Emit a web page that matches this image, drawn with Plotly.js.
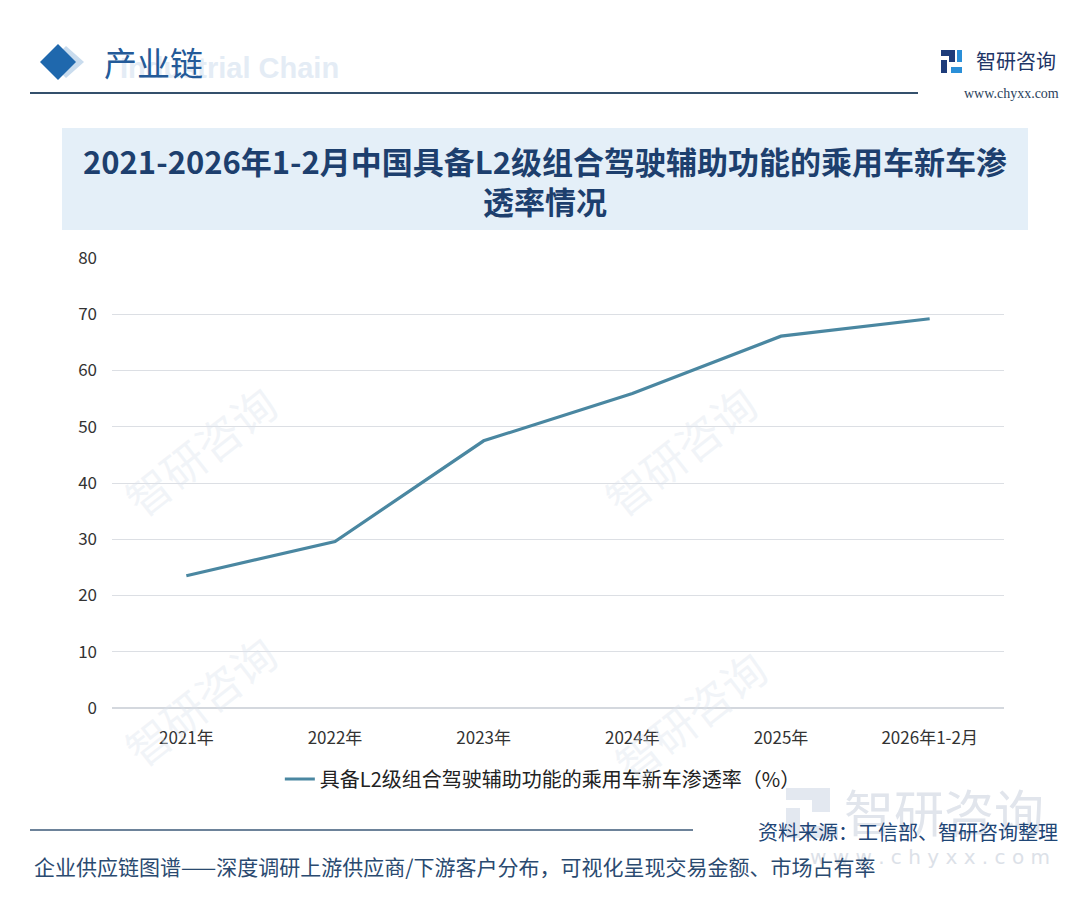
<!DOCTYPE html>
<html>
<head>
<meta charset="utf-8">
<script src="https://cdn.plot.ly/plotly-3.0.1.min.js"></script>
<style>
html,body{margin:0;padding:0;background:#fff;}
#chart{width:1080px;height:898px;}
</style>
</head>
<body>
<div id="chart"></div>
<script>
// ---- data ----
const categories = ['2021年', '2022年', '2023年', '2024年', '2025年', '2026年1-2月'];
const penetration = [23.5, 29.6, 47.5, 55.9, 66.1, 69.2];
const seriesName = '具备L2级组合驾驶辅助功能的乘用车新车渗透率（%）';
const yTicks = [0, 10, 20, 30, 40, 50, 60, 70, 80];

// ---- pixel → paper helpers ----
const L = 112, R = 1004, T = 258, B = 708;
const X = px => (px - L) / (R - L);
const Y = py => (B - py) / (B - T);

const FONT = '"Noto Sans CJK SC", "Noto Sans", sans-serif';
const NAVY = '#1d3f6e';

const shapes = [
  // title box
  {type:'rect', xref:'paper', yref:'paper', x0:X(62), x1:X(1028), y0:Y(230), y1:Y(128),
   fillcolor:'#e4eff8', line:{width:0}, layer:'below'},
  // header line
  {type:'line', xref:'paper', yref:'paper', x0:X(30), x1:X(918), y0:Y(93), y1:Y(93),
   line:{color:'#34506c', width:2}},
  // footer line
  {type:'line', xref:'paper', yref:'paper', x0:X(30), x1:X(693), y0:Y(830), y1:Y(830),
   line:{color:'#3c5a78', width:1.5}},
  // diamond shadow
  {type:'path', xref:'paper', yref:'paper',
   path:`M ${X(66)} ${Y(46)} L ${X(84)} ${Y(62)} L ${X(66)} ${Y(78)} L ${X(50)} ${Y(62)} Z`,
   fillcolor:'#c9dcee', line:{width:0}},
  // diamond
  {type:'path', xref:'paper', yref:'paper',
   path:`M ${X(58)} ${Y(44)} L ${X(76)} ${Y(62)} L ${X(58)} ${Y(80)} L ${X(40)} ${Y(62)} Z`,
   fillcolor:'#1f68ad', line:{width:0}},
  // logo icon (top right)
  {type:'rect', xref:'paper', yref:'paper', x0:X(941), x1:X(955), y0:Y(56), y1:Y(50), fillcolor:'#1e3c7a', line:{width:0}},
  {type:'rect', xref:'paper', yref:'paper', x0:X(949), x1:X(955), y0:Y(62), y1:Y(50), fillcolor:'#1e3c7a', line:{width:0}},
  {type:'rect', xref:'paper', yref:'paper', x0:X(941), x1:X(947), y0:Y(73), y1:Y(60), fillcolor:'#1e3c7a', line:{width:0}},
  {type:'rect', xref:'paper', yref:'paper', x0:X(951), x1:X(962), y0:Y(73), y1:Y(67), fillcolor:'#2a8fd8', line:{width:0}},
  {type:'rect', xref:'paper', yref:'paper', x0:X(957), x1:X(962), y0:Y(62), y1:Y(50), fillcolor:'#2a8fd8', line:{width:0}},
  // big faint watermark icon bottom right
  {type:'rect', xref:'paper', yref:'paper', x0:X(786), x1:X(830), y0:Y(800), y1:Y(788), fillcolor:'#e3e8f0', line:{width:0}},
  {type:'rect', xref:'paper', yref:'paper', x0:X(812), x1:X(830), y0:Y(812), y1:Y(788), fillcolor:'#e3e8f0', line:{width:0}},
  {type:'rect', xref:'paper', yref:'paper', x0:X(786), x1:X(800), y0:Y(838), y1:Y(808), fillcolor:'#e3e8f0', line:{width:0}},
  {type:'rect', xref:'paper', yref:'paper', x0:X(806), x1:X(838), y0:Y(838), y1:Y(826), fillcolor:'#e3e8f0', line:{width:0}}
];

const annotations = [
  // faint header subtitle
  {xref:'paper', yref:'paper', x:X(118), y:Y(68), xanchor:'left', yanchor:'middle', showarrow:false,
   text:'Industrial Chain', font:{family:'"Liberation Sans", Arial, sans-serif', size:29, color:'#e4ecf5', weight:'bold'}},
  {xref:'paper', yref:'paper', x:X(102), y:Y(62), xanchor:'left', yanchor:'middle', showarrow:false,
   text:'产业链', font:{family:FONT, size:33, color:'#245a98'}},
  {xref:'paper', yref:'paper', x:X(974), y:Y(61), xanchor:'left', yanchor:'middle', showarrow:false,
   text:'智研咨询', font:{family:FONT, size:20, color:'#1e3566'}},
  {xref:'paper', yref:'paper', x:X(1061), y:Y(93), xanchor:'right', yanchor:'middle', showarrow:false,
   text:'www.chyxx.com', font:{family:'"Liberation Serif", "DejaVu Serif", serif', size:14, color:'#2b3f5c'}},
  // title
  {xref:'paper', yref:'paper', x:X(545), y:Y(181), xanchor:'center', yanchor:'middle', showarrow:false,
   text:'2021-2026年1-2月中国具备L2级组合驾驶辅助功能的乘用车新车渗<br>透率情况',
   font:{family:FONT, size:31, color:NAVY, weight:'bold'}, align:'center'},
  // bottom right watermark
  {xref:'paper', yref:'paper', x:X(842), y:Y(810), xanchor:'left', yanchor:'middle', showarrow:false,
   text:'智研咨询', font:{family:FONT, size:50, color:'#e1e5ec'}},
  {xref:'paper', yref:'paper', x:X(1052), y:Y(857), xanchor:'right', yanchor:'middle', showarrow:false,
   text:'w w w . c h y x x . c o m', font:{family:'"DejaVu Sans", sans-serif', size:20, color:'#dce1e8'}},
  // source
  {xref:'paper', yref:'paper', x:X(1060), y:Y(831), xanchor:'right', yanchor:'middle', showarrow:false,
   text:'资料来源：工信部、智研咨询整理', font:{family:FONT, size:20, color:'#1f4676'}},
  // footer text
  {xref:'paper', yref:'paper', x:X(32), y:Y(866), xanchor:'left', yanchor:'middle', showarrow:false,
   text:'企业供应链图谱——深度调研上游供应商/下游客户分布，可视化呈现交易金额、市场占有率',
   font:{family:FONT, size:21, color:'#2a4a70'}}
];

// faint diagonal watermarks inside the chart area
const wmPos = [[200,450],[680,450],[200,700],[690,715]];
wmPos.forEach(p => {
  annotations.push({xref:'paper', yref:'paper', x:X(p[0]), y:Y(p[1]), xanchor:'center', yanchor:'middle',
    showarrow:false, textangle:-38, text:'智研咨询', font:{family:FONT, size:44, color:'rgba(220,228,237,0.38)'}});
});

const trace = {
  x: categories,
  y: penetration,
  type: 'scatter',
  mode: 'lines',
  name: seriesName,
  line: {color:'#4a87a1', width:3.2},
  showlegend: true
};

const layout = {
  width: 1080,
  height: 898,
  margin: {l:L, r:1080-R, t:T, b:898-B, pad:0},
  paper_bgcolor: '#ffffff',
  plot_bgcolor: 'rgba(0,0,0,0)',
  font: {family: FONT, color:'#333'},
  xaxis: {
    type:'category',
    range:[-0.5, 5.5],
    showgrid:false,
    zeroline:false,
    showline:false,
    ticks:'',
    ticklabelstandoff: 18,
    tickfont:{family:FONT, size:17, color:'#333'},
    fixedrange:true
  },
  yaxis: {
    range:[0, 80],
    tickvals: yTicks,
    ticktext: yTicks.map(String),
    showgrid:true,
    gridcolor:'#dcdfe4',
    gridwidth:1,
    zeroline:true,
    zerolinecolor:'#d4d8de',
    zerolinewidth:1.5,
    showline:false,
    ticks:'',
    ticklabelstandoff: 14,
    tickfont:{family:FONT, size:17, color:'#333'},
    fixedrange:true
  },
  showlegend: true,
  legend: {
    orientation:'h',
    x:0.483, xanchor:'center',
    y:Y(779), yanchor:'middle',
    font:{family:FONT, size:20, color:'#222'},
    bgcolor:'rgba(0,0,0,0)'
  },
  shapes: shapes,
  annotations: annotations
};

Plotly.newPlot('chart', [trace], layout, {displayModeBar:false, staticPlot:true});
</script>
</body>
</html>
